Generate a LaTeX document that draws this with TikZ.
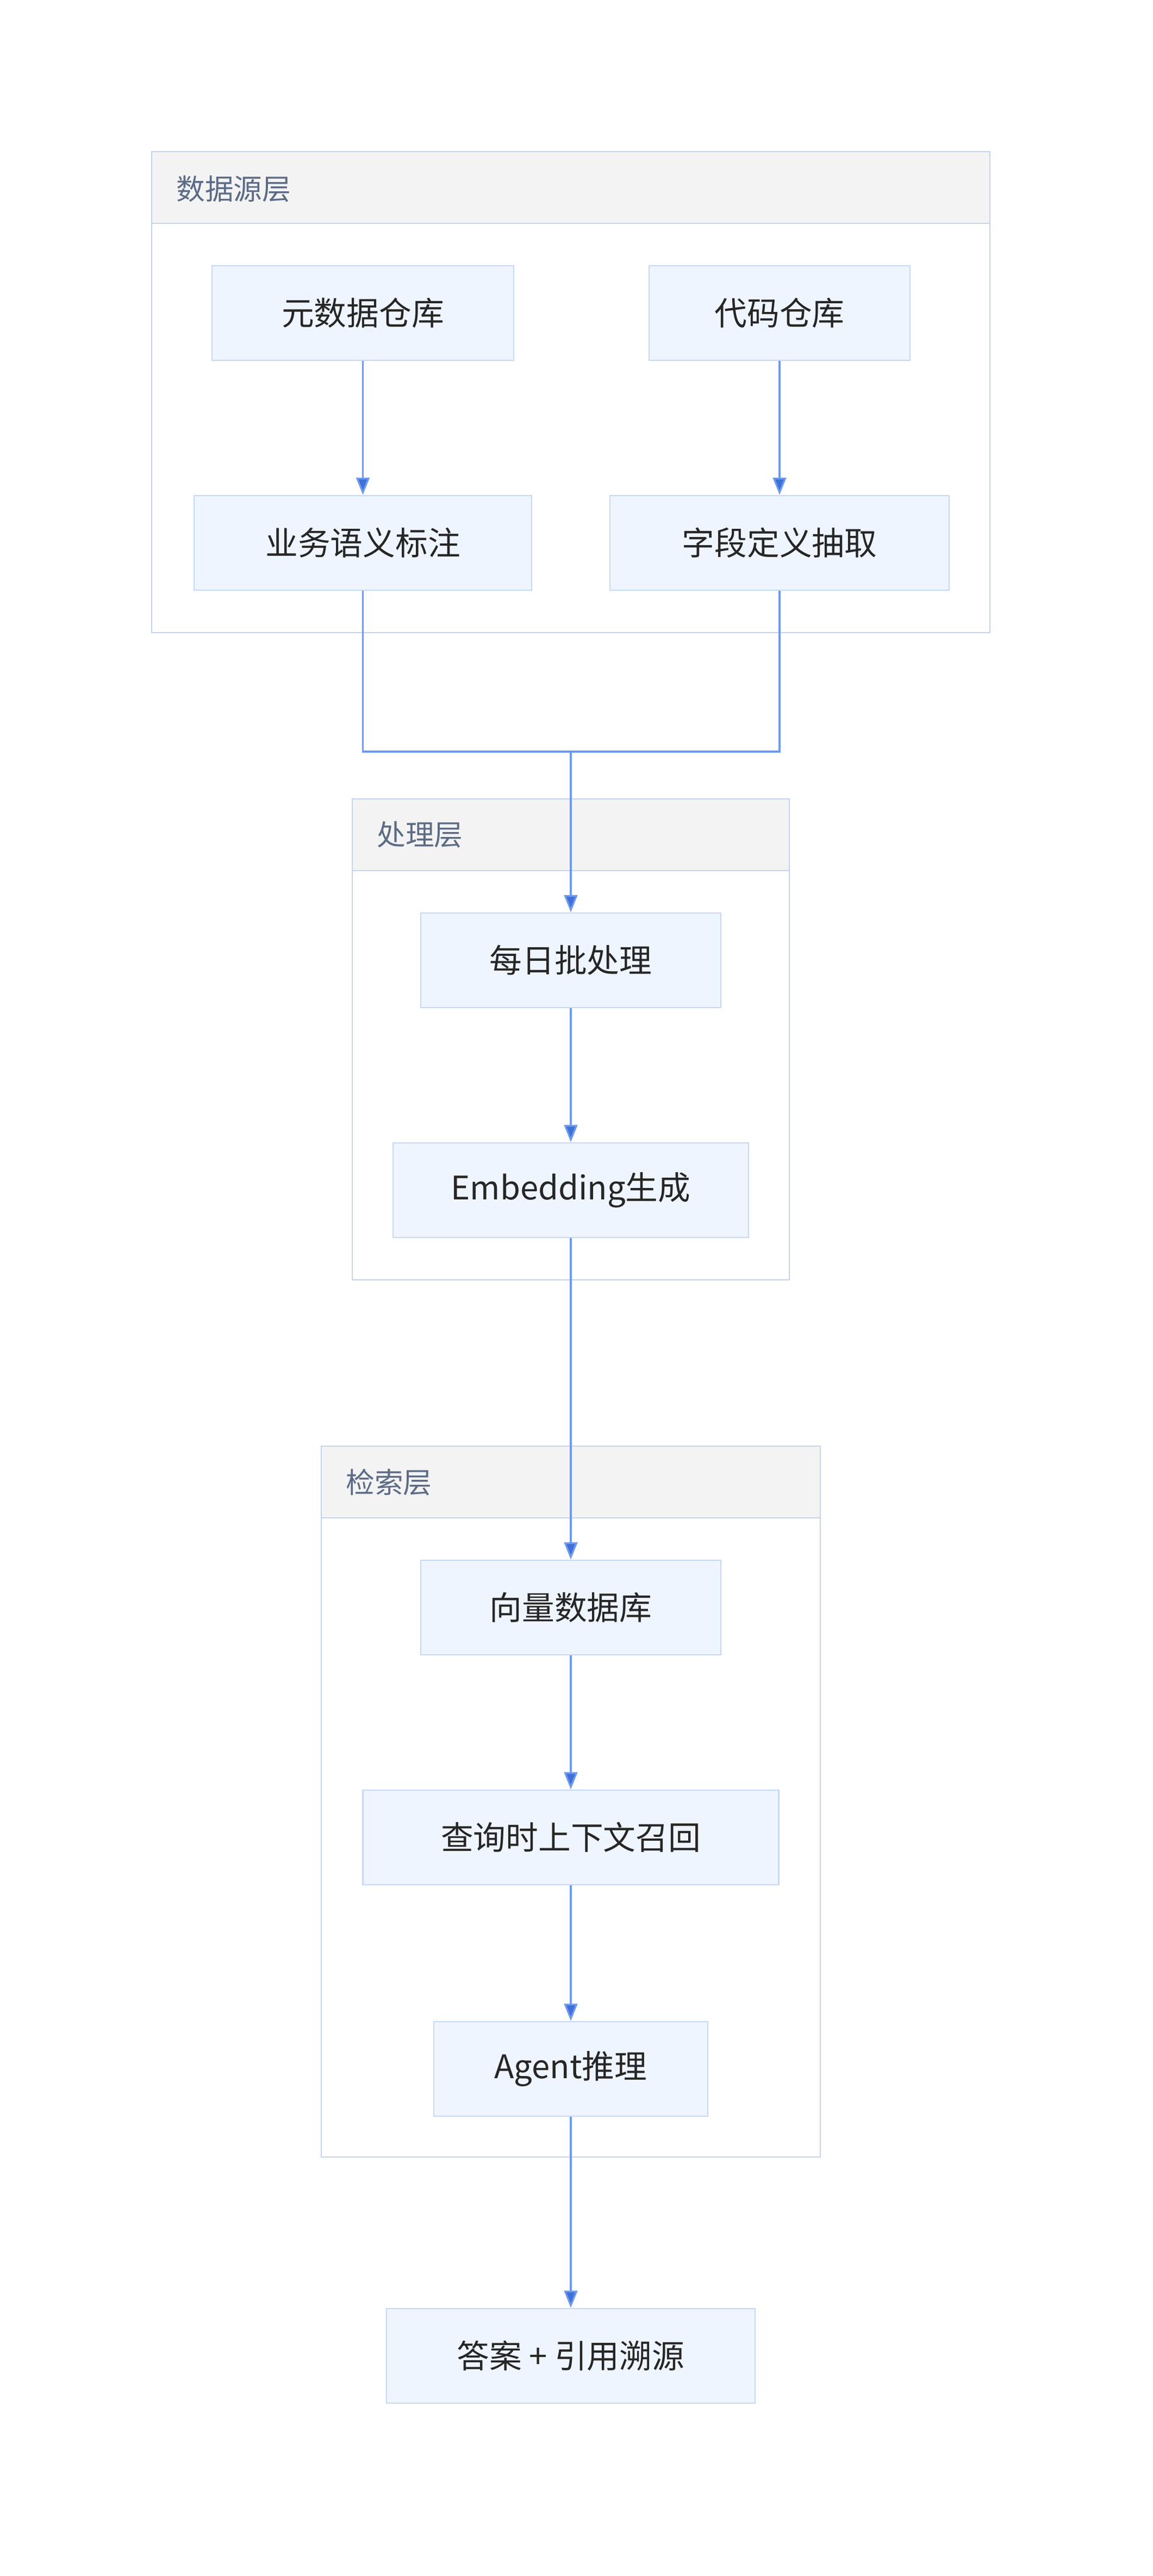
\documentclass[tikz,border=0pt]{standalone}
\usepackage{fontspec}
\setmainfont{Noto Sans CJK SC}
\usetikzlibrary{arrows.meta}
\definecolor{boxfill}{HTML}{EFF5FE}
\definecolor{boxline}{HTML}{C7D8F4}
\definecolor{grpline}{HTML}{C6D3EE}
\definecolor{grphead}{HTML}{F3F3F3}
\definecolor{grptext}{HTML}{5C6B86}
\definecolor{flow}{HTML}{6F9AEC}
\definecolor{flowtip}{HTML}{3D70DA}
\begin{document}
\begin{tikzpicture}[
    x=0.03cm, y=-0.03cm,
    box/.style={draw=boxline, fill=boxfill, line width=0.8pt, minimum height=1.74cm,
      font=\fontsize{17}{20}\selectfont, text=black!85, inner sep=0pt},
    grp/.style={draw=grpline, line width=0.8pt},
    head/.style={draw=grpline, fill=grphead, line width=0.8pt},
    grplabel/.style={anchor=west, font=\fontsize{15}{18}\selectfont, text=grptext},
    flowline/.style={draw=flow, line width=0.9pt, -{Triangle[length=9pt,width=7pt,fill=flowtip]}},
    plain/.style={draw=flow, line width=0.9pt}
  ]
  \useasboundingbox (0,0) rectangle (706.67,1580);

  % --- GROUPS ---
  \draw[grp] (93,93) rectangle (607,388);
  \draw[head] (93,93) rectangle (607,137);
  \node[grplabel] (lsrc) at (104,116) {数据源层};

  \draw[grp] (216,490) rectangle (484,785);
  \draw[head] (216,490) rectangle (484,534);
  \node[grplabel] (lproc) at (227,512) {处理层};

  \draw[grp] (197,887) rectangle (503,1323);
  \draw[head] (197,887) rectangle (503,931);
  \node[grplabel] (lret) at (208,909) {检索层};

  % --- NODES ---
  \node[box, minimum width=5.55cm] (meta) at (222.5,192) {元数据仓库};
  \node[box, minimum width=4.8cm] (code) at (478,192) {代码仓库};
  \node[box, minimum width=6.21cm] (biz) at (222.5,333) {业务语义标注};
  \node[box, minimum width=6.24cm] (field) at (478,333) {字段定义抽取};
  \node[box, minimum width=5.52cm] (batch) at (350,589) {每日批处理};
  \node[box, minimum width=6.54cm] (emb) at (350,730) {Embedding生成};
  \node[box, minimum width=5.52cm] (vdb) at (350,986) {向量数据库};
  \node[box, minimum width=7.65cm] (recall) at (350,1127) {查询时上下文召回};
  \node[box, minimum width=5.04cm] (agent) at (350,1269) {Agent推理};
  \node[box, minimum width=6.78cm] (ans) at (350,1445) {答案 + 引用溯源};
  \coordinate (mrg) at (350,461);

  % --- CONNECTORS ---
  \draw[flowline] (meta) -- (biz);
  \draw[flowline] (code) -- (field);
  \draw[plain] (biz.south) |- (mrg);
  \draw[plain] (field.south) |- (mrg);
  \draw[flowline] (mrg) -- (batch);
  \draw[flowline] (batch) -- (emb);
  \draw[flowline] (emb) -- (vdb);
  \draw[flowline] (vdb) -- (recall);
  \draw[flowline] (recall) -- (agent);
  \draw[flowline] (agent) -- (ans);
\end{tikzpicture}
\end{document}
